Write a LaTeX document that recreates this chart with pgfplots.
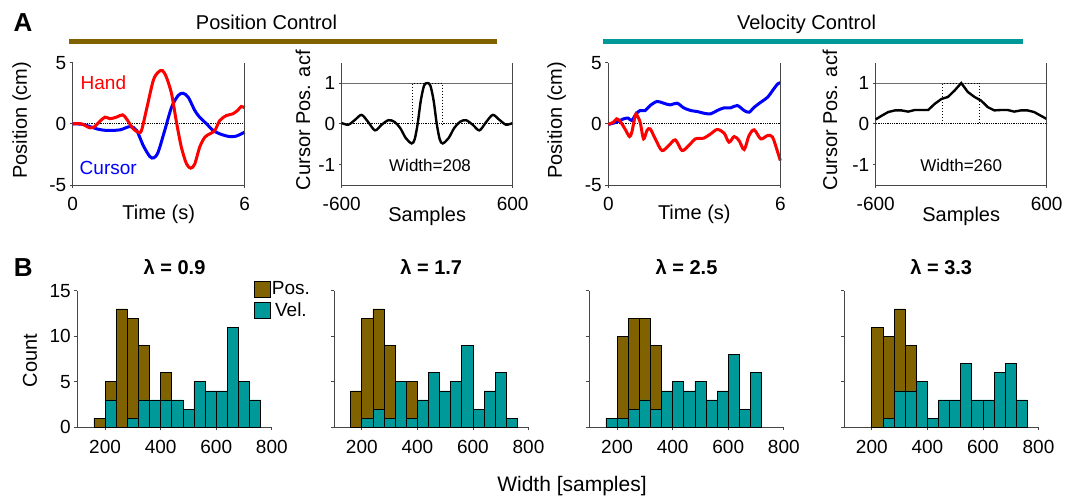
\documentclass[border=0pt]{standalone}
\usepackage{pgfplots}
\pgfplotsset{compat=1.18}
\usepackage{fontspec}
\setmainfont{Liberation Sans}

\definecolor{posc}{RGB}{128,98,0}
\definecolor{velc}{RGB}{0,153,153}
\definecolor{axc}{RGB}{70,70,70}
\definecolor{refc}{RGB}{110,110,110}

\pgfplotsset{
  fig/.style={
    scale only axis, anchor=south west,
    font=\fontsize{19}{22}\selectfont,
    /pgf/number format/assume math mode=true,
    axis x line*=bottom, axis y line*=left,
    axis line style={-, axc, line width=0.8pt},
    tick style={axc, line width=0.8pt},
    tick align=outside, major tick length=3pt,
    xticklabel style={yshift=-6pt},
    label style={font=\fontsize{20}{24}\selectfont},
  },
  trace/.style={fig, clip=false, width=172pt, height=122.3pt,
    xmin=0, xmax=6, ymin=-5, ymax=5,
    xtick={0,6}, ytick={-5,0,5}, yticklabels={-5,0,5},
    xlabel={Time (s)}, ylabel={Position (cm)},
    xlabel style={at={(axis description cs:0.5,-0.237)}, anchor=center},
  },
  acf/.style={fig, clip=false, width=171pt, height=122.3pt,
    xmin=-600, xmax=600, ymin=-1.5, ymax=1.5,
    xtick={-600,600}, xticklabels={-600,600},
    ytick={-1,0,1}, yticklabels={-1,0,1},
    xlabel={Samples}, ylabel={Cursor Pos. acf},
    xlabel style={at={(axis description cs:0.5,-0.26)}, anchor=center},
  },
  hist/.style={fig, width=194.5pt, height=136.6pt,
    xmin=100, xmax=800, ymin=0, ymax=15,
    xtick={200,400,600,800}, ytick={0,5,10,15},
    title style={at={(axis description cs:0.5,1)}, anchor=base, yshift=10.7pt,
      font=\fontsize{20}{24}\selectfont\bfseries},
  },
  hand/.style={red, line width=3pt, smooth, tension=0.5},
  cursor/.style={blue, line width=3pt, smooth, tension=0.5},
  acfline/.style={black, line width=2.4pt},
  posbar/.style={ybar interval, fill=posc, draw=black, line width=0.7pt},
  velbar/.style={ybar interval, fill=velc, draw=black, line width=0.7pt},
}

\begin{document}
\begin{tikzpicture}
\path[use as bounding box] (0,0) rectangle (1079pt,-498pt);

% ---------- row A headers ----------
\node[font=\fontsize{26}{30}\selectfont\bfseries] at (23pt,-22.5pt) {A};
\node[font=\fontsize{20}{24}\selectfont, anchor=base] at (266.5pt,-29.5pt) {Position Control};
\node[font=\fontsize{20}{24}\selectfont, anchor=base] at (806.5pt,-29.5pt) {Velocity Control};
\draw[posc, line width=4.7pt] (69pt,-41.7pt) -- (497pt,-41.7pt);
\draw[velc, line width=4.7pt] (603pt,-41.7pt) -- (1023pt,-41.7pt);

% ---------- position control: hand and cursor traces ----------
\begin{axis}[trace, at={(72.7pt,-185pt)},
  ylabel style={at={(axis description cs:-0.297,0.53)}, anchor=center}]
  \addplot[black, densely dotted, line width=0.8pt] coordinates {(0,0) (6,0)};
  \addplot[cursor] coordinates {
    (0,0) (0.37,-0.05) (0.84,-0.41) (1.18,-0.54) (1.65,-0.49) (2.0,-0.22)
    (2.23,-0.54) (2.46,-1.77) (2.69,-2.67) (2.83,-2.78) (2.98,-2.32)
    (3.21,-0.54) (3.45,1.36) (3.68,2.32) (3.85,2.5) (4.03,2.18) (4.26,1.09)
    (4.43,0.54) (4.67,0) (4.9,-0.54) (5.19,-0.87) (5.48,-1.04) (5.71,-1.0)
    (6.0,-0.68)};
  \addplot[hand] coordinates {
    (0,0) (0.31,0) (0.6,-0.33) (0.78,-0.2) (0.95,0.22) (1.13,0.55) (1.3,0.42)
    (1.53,0.55) (1.74,0.74) (1.88,0.4) (2.11,-0.4) (2.29,-0.68) (2.4,-0.54)
    (2.58,1.23) (2.81,3.54) (2.98,4.22) (3.13,4.36) (3.27,3.81) (3.45,2.45)
    (3.62,0.14) (3.79,-1.9) (3.97,-3.27) (4.12,-3.62) (4.26,-3.27)
    (4.43,-1.9) (4.61,-1.09) (4.78,-0.82) (4.96,-0.54) (5.13,0.27)
    (5.36,0.68) (5.59,0.82) (5.77,1.14) (5.88,1.42) (6,1.31)};
  \draw[axc, line width=0.8pt] (rel axis cs:1,0) -- (rel axis cs:1,1);
  \node[red] at (axis cs:1.07,3.4) {Hand};
  \node[blue] at (axis cs:1.24,-3.6) {Cursor};
\end{axis}

% ---------- position control: autocorrelation ----------
\begin{axis}[acf, at={(341.7pt,-185pt)},
  ylabel style={at={(axis description cs:-0.226,0.53)}, anchor=center}]
  \addplot[refc, line width=0.8pt] coordinates {(-600,1) (600,1)};
  \addplot[black, densely dotted, line width=0.8pt] coordinates {(-600,0) (600,0)};
  \addplot[black, dotted, line width=1pt] coordinates {(-104,0) (-104,1) (104,1) (104,0)};
  \addplot[acfline, smooth, tension=0.5] coordinates {
    (-600,0.02) (-553,-0.02) (-506,0.1) (-460,0.22) (-413,0.04) (-366,-0.16)
    (-319,-0.02) (-272,0.09) (-230,0.05) (-190,-0.1) (-150,-0.35)
    (-109,-0.48) (-88,-0.38) (-67,0) (-45,0.57) (-22,0.94) (0,1)
    (22,0.94) (45,0.57) (67,0) (88,-0.38) (109,-0.48) (150,-0.35)
    (190,-0.1) (230,0.05) (272,0.09) (319,-0.02) (366,-0.16) (413,0.04)
    (460,0.22) (506,0.1) (553,-0.02) (600,0.02)};
  \draw[axc, line width=0.8pt] (rel axis cs:1,0) -- (rel axis cs:1,1);
  \node[font=\fontsize{17}{20}\selectfont] at (axis cs:20,-1.01) {Width=208};
\end{axis}

% ---------- velocity control: hand and cursor traces ----------
\begin{axis}[trace, at={(608.3pt,-185pt)},
  ylabel style={at={(axis description cs:-0.30,0.53)}, anchor=center}]
  \addplot[black, densely dotted, line width=0.8pt] coordinates {(0,0) (6,0)};
  \addplot[cursor] coordinates {
    (0,-0.05) (0.29,0.14) (0.53,0.41) (0.7,0.46) (0.82,0.27) (0.97,0.82)
    (1.11,1.09) (1.29,1.09) (1.46,1.5) (1.7,1.83) (1.93,1.69) (2.16,1.55)
    (2.4,1.69) (2.63,1.31) (2.87,1.09) (3.1,1.01) (3.33,0.87) (3.57,0.82)
    (3.8,1.09) (4.04,1.31) (4.27,1.31) (4.5,1.5) (4.74,1.09) (4.91,0.95)
    (5.09,1.36) (5.32,1.77) (5.56,2.18) (5.73,2.72) (5.91,3.27) (6,3.35)};
  \addplot[hand] coordinates {
    (0,-0.05) (0.18,0.14) (0.29,0.41) (0.41,0.22) (0.58,-0.41) (0.74,-1.04)
    (0.82,-0.68) (0.94,0.68) (0.99,0.74) (1.11,0.14) (1.23,-1.23)
    (1.35,-0.54) (1.46,-0.41) (1.64,-1.23) (1.87,-2.18) (2.11,-1.77)
    (2.34,-1.31) (2.57,-2.18) (2.81,-1.77) (3.04,-1.23) (3.33,-1.17)
    (3.57,-0.82) (3.8,-0.46) (4.04,-0.76) (4.21,-1.5) (4.39,-1.04)
    (4.56,-1.36) (4.74,-2.1) (4.91,-0.95) (5.09,-0.49) (5.32,-1.23)
    (5.56,-0.95) (5.73,-1.09) (5.91,-2.32) (6,-3.0)};
  \draw[axc, line width=0.8pt] (rel axis cs:1,0) -- (rel axis cs:1,1);
\end{axis}

% ---------- velocity control: autocorrelation ----------
\begin{axis}[acf, at={(875.7pt,-185pt)},
  ylabel style={at={(axis description cs:-0.267,0.53)}, anchor=center}]
  \addplot[refc, line width=0.8pt] coordinates {(-600,1) (600,1)};
  \addplot[black, densely dotted, line width=0.8pt] coordinates {(-600,0) (600,0)};
  \addplot[black, dotted, line width=1pt] coordinates {(-130,0) (-130,1) (130,1) (130,0)};
  \addplot[acfline] coordinates {
    (-600,0.11) (-558,0.2) (-512,0.29) (-465,0.33) (-419,0.33) (-372,0.3)
    (-326,0.34) (-279,0.34) (-232,0.34) (-186,0.49) (-139,0.61) (-93,0.66)
    (-46,0.82) (0,1) (47,0.78) (93,0.66) (140,0.57) (186,0.41) (232,0.33)
    (279,0.34) (326,0.34) (372,0.3) (419,0.33) (465,0.33) (512,0.29)
    (558,0.2) (600,0.12)};
  \draw[axc, line width=0.8pt] (rel axis cs:1,0) -- (rel axis cs:1,1);
  \node[font=\fontsize{17}{20}\selectfont] at (axis cs:0,-1.02) {Width=260};
\end{axis}

% ---------- row B: width histograms ----------
\node[font=\fontsize{26}{30}\selectfont\bfseries] at (23.3pt,-268pt) {B};

\begin{axis}[hist, at={(77.3pt,-427.3pt)}, title={λ = 0.9},
  ylabel={Count},
  ylabel style={at={(axis description cs:-0.243,0.49)}, anchor=center},
  legend style={at={(rel axis cs:0.9085,1.075)}, anchor=north west,
    draw=none, fill=none, inner sep=0pt, row sep=4pt,
    font=\fontsize{19}{22}\selectfont,
    nodes={inner sep=1pt}},
  legend image code/.code={\draw[#1] (0pt,-8pt) rectangle (16pt,8pt);}]
  \addplot[posbar] coordinates {
    (160,1) (200,5) (240,13) (280,12) (320,9) (360,2) (400,6) (440,1) (480,0)};
  \addplot[velbar] coordinates {
    (200,3) (240,0) (280,1) (320,3) (360,3) (400,3) (440,3) (480,2) (520,5)
    (560,4) (600,4) (640,11) (680,5) (720,3) (760,0)};
  \legend{Pos.,Vel.}
\end{axis}

\begin{axis}[hist, at={(334pt,-427.3pt)}, title={λ = 1.7}, yticklabels={}]
  \addplot[posbar] coordinates {
    (160,4) (200,12) (240,13) (280,9) (320,3) (360,5) (400,1) (440,0)};
  \addplot[velbar] coordinates {
    (200,1) (240,2) (280,1) (320,5) (360,1) (400,3) (440,6) (480,4) (520,5)
    (560,9) (600,2) (640,4) (680,6) (720,1) (760,0)};
\end{axis}

\begin{axis}[hist, at={(589.3pt,-427.3pt)}, title={λ = 2.5}, yticklabels={}]
  \addplot[posbar] coordinates {
    (200,10) (240,12) (280,12) (320,9) (360,1) (400,0)};
  \addplot[velbar] coordinates {
    (160,1) (200,1) (240,2) (280,3) (320,2) (360,4) (400,5) (440,4) (480,5)
    (520,3) (560,4) (600,8) (640,2) (680,6) (720,0)};
\end{axis}

\begin{axis}[hist, at={(844pt,-427.3pt)}, title={λ = 3.3}, yticklabels={}]
  \addplot[posbar] coordinates {
    (200,11) (240,10) (280,13) (320,9) (360,3) (400,0)};
  \addplot[velbar] coordinates {
    (240,1) (280,4) (320,4) (360,5) (400,1) (440,3) (480,3) (520,7) (560,3)
    (600,3) (640,6) (680,7) (720,3) (760,0)};
\end{axis}

\node[font=\fontsize{21}{25}\selectfont, anchor=base] at (572pt,-491.7pt) {Width [samples]};
\end{tikzpicture}
\end{document}
